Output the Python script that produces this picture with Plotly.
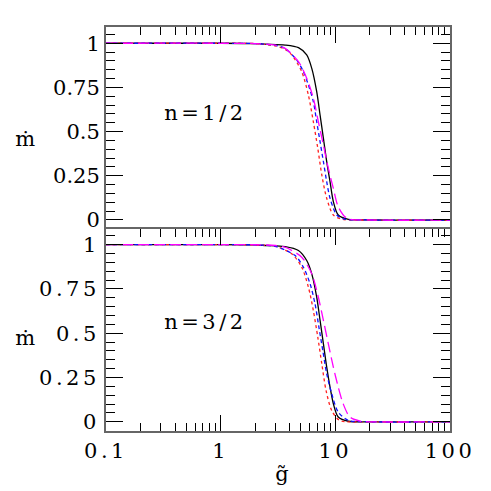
import plotly.graph_objects as go

# ---- data ----
tick_y_step = 0.25
panel_labels = ["n=1/2", "n=3/2"]
y_label = "ṁ"
x_label = "g̃"

# top panel (n=1/2)
top_black_x = [0.1, 1, 2, 2.44, 3.65, 4.77, 5.63, 6.23, 6.88, 7.36, 7.87, 8.41, 8.99, 9.61, 10.6, 13, 20, 100]
top_black_y = [1, 1, 0.998, 0.995, 0.99, 0.975, 0.934, 0.858, 0.726, 0.594, 0.462, 0.33, 0.217, 0.104, 0.028, 0.004, 0, 0]
top_red_x = [0.1, 1, 2, 3, 3.65, 4.17, 5.09, 5.82, 6.43, 7.03, 7.62, 8.41, 9.61, 11.5, 20, 100]
top_red_y = [1, 1, 0.998, 0.985, 0.965, 0.934, 0.84, 0.707, 0.556, 0.406, 0.255, 0.123, 0.028, 0.004, 0, 0]
top_blue_x = [0.1, 1, 2, 3, 3.65, 4.61, 5.26, 5.82, 6.43, 6.88, 7.36, 7.87, 8.41, 8.99, 10.3, 12, 20, 100]
top_blue_y = [1, 1, 0.998, 0.988, 0.97, 0.905, 0.84, 0.764, 0.67, 0.556, 0.443, 0.33, 0.217, 0.123, 0.028, 0.005, 0, 0]
top_mag_x = [0.1, 1, 2, 3, 3.65, 4.77, 5.63, 6.43, 7.11, 7.87, 8.69, 9.61, 10.6, 12.6, 20, 100]
top_mag_y = [1, 1, 0.998, 0.99, 0.971, 0.896, 0.802, 0.689, 0.556, 0.424, 0.292, 0.179, 0.075, 0.01, 0, 0]

# bottom panel (n=3/2)
bot_black_x = [0.1, 1, 2, 2.44, 3.65, 4.77, 5.63, 6.23, 6.88, 7.36, 7.87, 8.41, 8.99, 9.61, 10.6, 13, 20, 100]
bot_black_y = [1, 1, 0.998, 0.995, 0.989, 0.967, 0.91, 0.835, 0.703, 0.572, 0.44, 0.308, 0.196, 0.102, 0.027, 0.003, 0, 0]
bot_red_x = [0.1, 1, 2, 3, 4.17, 5.09, 5.82, 6.43, 7.03, 7.62, 8.3, 9.3, 10.9, 20, 100]
bot_red_y = [1, 1, 0.998, 0.99, 0.948, 0.873, 0.76, 0.628, 0.478, 0.327, 0.177, 0.064, 0.008, 0, 0]
bot_blue_x = [0.1, 1, 2, 3, 4.46, 5.26, 6.03, 6.65, 7.19, 7.77, 8.41, 9.3, 10.6, 13, 20, 100]
bot_blue_y = [1, 1, 0.998, 0.99, 0.938, 0.873, 0.778, 0.666, 0.534, 0.403, 0.271, 0.158, 0.055, 0.008, 0, 0]
bot_mag_x = [0.1, 1, 2, 3, 3.65, 5.09, 6.23, 7.11, 7.87, 8.69, 9.61, 10.6, 11.7, 13.4, 16.5, 20, 100]
bot_mag_y = [1, 1, 0.999, 0.995, 0.985, 0.929, 0.835, 0.703, 0.572, 0.44, 0.308, 0.196, 0.102, 0.027, 0.004, 0, 0]

FONT = "DejaVu Serif"
FS = 21
styles = [
    dict(color="black", dash="solid"),
    dict(color="#ff2020", dash="dot"),
    dict(color="#1010ff", dash="4px,3px"),
    dict(color="#ff00ff", dash="11px,5px"),
]

fig = go.Figure()
top_sets = [(top_black_x, top_black_y), (top_red_x, top_red_y), (top_blue_x, top_blue_y), (top_mag_x, top_mag_y)]
bot_sets = [(bot_black_x, bot_black_y), (bot_red_x, bot_red_y), (bot_blue_x, bot_blue_y), (bot_mag_x, bot_mag_y)]
for (xs, ys), st in zip(top_sets, styles):
    fig.add_trace(go.Scatter(x=xs, y=ys, mode="lines", xaxis="x2", yaxis="y2",
                             line=dict(color=st["color"], dash=st["dash"], width=1.3, shape="spline", smoothing=0.8),
                             showlegend=False, hoverinfo="skip"))
for (xs, ys), st in zip(bot_sets, styles):
    fig.add_trace(go.Scatter(x=xs, y=ys, mode="lines", xaxis="x", yaxis="y",
                             line=dict(color=st["color"], dash=st["dash"], width=1.3, shape="spline", smoothing=0.8),
                             showlegend=False, hoverinfo="skip"))

tickfont = dict(family=FONT, size=FS, color="black")
xcommon = dict(type="log", range=[-1, 2], tickmode="linear", tick0=0, dtick=1,
               ticks="inside", ticklen=16, tickwidth=1, tickcolor="black",
               showline=True, linecolor="#666666", linewidth=2, showgrid=False, zeroline=False,
               minor=dict(ticks="inside", ticklen=8, tickwidth=1, tickcolor="black", dtick="D1", showgrid=False),
               tickfont=tickfont, exponentformat="none")
ycommon = dict(tickmode="linear", tick0=0, dtick=tick_y_step,
               ticks="inside", ticklen=17, tickwidth=1, tickcolor="black",
               showline=True, linecolor="#666666", linewidth=2, showgrid=False, zeroline=False,
               mirror="allticks",
               minor=dict(ticks="inside", ticklen=9, tickwidth=1, tickcolor="black", dtick=0.05, tick0=0, showgrid=False),
               tickfont=tickfont)

fig.update_layout(
    width=491, height=491,
    margin=dict(l=106, r=41, t=27, b=60),
    paper_bgcolor="white", plot_bgcolor="white",
    xaxis=dict(xcommon, anchor="y", domain=[0, 1], mirror="allticks"),
    xaxis2=dict(xcommon, anchor="y2", domain=[0, 1], matches="x", side="top", mirror=False, showticklabels=False),
    yaxis=dict(ycommon, domain=[0, 0.5], range=[-0.052, 1.088], anchor="x"),
    yaxis2=dict(ycommon, domain=[0.5, 1], range=[-0.051, 1.092], anchor="x2"),
    font=dict(family=FONT, size=FS, color="black"),
)

# annotations placed by pixel position in the 491x491 canvas
annots = [
    dict(text=panel_labels[0], x=205, y=113),
    dict(text=panel_labels[1], x=205, y=322),
    dict(text=y_label, x=27, y=139),
    dict(text=y_label, x=27, y=338),
    dict(text=x_label, x=283, y=474),
]
for a in annots:
    fig.add_annotation(text=a["text"], x=(a["x"] - 106) / 344, y=(431 - a["y"]) / 404,
                       xref="paper", yref="paper", showarrow=False,
                       xanchor="center", yanchor="middle",
                       font=dict(family=FONT, size=FS, color="black"))

post = """
document.body.style.margin='0';
document.body.style.padding='0';
document.querySelectorAll('.xtick text, .ytick text, .annotation-text').forEach(function(t){
  t.style.letterSpacing='3.5px';
});
"""
fig.write_html("out.html", post_script=post, config={"displayModeBar": False})
